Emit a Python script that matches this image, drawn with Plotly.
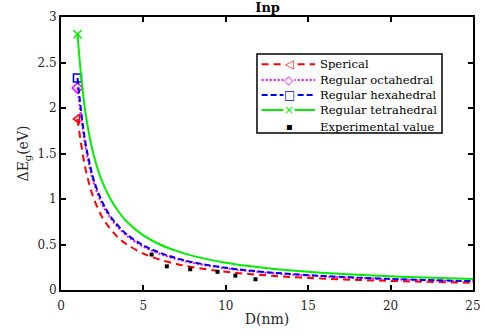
import plotly.graph_objects as go

D = [1, 1.25, 1.5, 1.75, 2, 2.5, 3, 3.5, 4, 5, 6, 7, 8, 10, 12, 14, 16, 18, 20, 22, 25]
spherical = [1.88, 1.57, 1.32, 1.14, 1.0, 0.8, 0.67, 0.57, 0.5, 0.4, 0.333, 0.286, 0.25, 0.2, 0.167, 0.143, 0.125, 0.111, 0.1, 0.091, 0.08]
octahedral = [2.22, 1.86, 1.56, 1.34, 1.17, 0.94, 0.79, 0.68, 0.595, 0.475, 0.397, 0.34, 0.297, 0.238, 0.198, 0.17, 0.149, 0.132, 0.119, 0.108, 0.095]
hexahedral = [2.33, 1.92, 1.6, 1.38, 1.2, 0.97, 0.81, 0.7, 0.61, 0.49, 0.41, 0.35, 0.305, 0.245, 0.204, 0.175, 0.153, 0.136, 0.122, 0.111, 0.097]
tetrahedral = [2.81, 2.3, 1.93, 1.67, 1.47, 1.19, 1.0, 0.86, 0.75, 0.6, 0.5, 0.43, 0.375, 0.3, 0.25, 0.214, 0.188, 0.167, 0.15, 0.136, 0.12]
exp_D = [5.5, 6.42, 7.84, 9.5, 10.58, 11.8]
exp_E = [0.39, 0.26, 0.228, 0.20, 0.158, 0.118]

names = ["Sperical", "Regular octahedral", "Regular hexahedral", "Regular tetrahedral", "Experimental value"]
series = [spherical, octahedral, hexahedral, tetrahedral]
colors = ["#ff0000", "#ff00ff", "#0000ee", "#00ee00"]
dashes = ["7px,5px", "2px,2px", "6px,3px", "solid"]
symbols = ["triangle-left-open", "diamond-open", "square-open", "x-thin-open"]
legend_glyphs = ["◁", "◇", "□", "×", "▪"]

FONT = "DejaVu Serif"
fig = go.Figure()
for nm, ys, c, d, s in zip(names, series, colors, dashes, symbols):
    fig.add_trace(go.Scatter(x=D, y=ys, mode="lines", name=nm,
                             line=dict(color=c, width=2, dash=d, shape="spline")))
    fig.add_trace(go.Scatter(x=D[:1], y=ys[:1], mode="markers", name=nm,
                             marker=dict(symbol=s, size=8, color=c, line=dict(color=c, width=1.6))))
fig.add_trace(go.Scatter(x=exp_D, y=exp_E, mode="markers", name=names[4],
                         marker=dict(symbol="square", size=4, color="black")))

# hand-built legend (paper coordinates of the plot area)
shapes = [dict(type="rect", xref="paper", yref="paper", x0=0.4757, x1=0.9248, y0=0.575, y1=0.8645,
               line=dict(color="black", width=1.5), fillcolor="white", layer="above")]
annotations = []
row_y = [0.8267, 0.7692, 0.7143, 0.6593, 0.5982]
leg_colors = colors + ["black"]
for i, nm in enumerate(names):
    y = row_y[i]
    if i < 4:
        shapes.append(dict(type="line", xref="paper", yref="paper", x0=0.487, x1=0.6165, y0=y, y1=y,
                           line=dict(color=leg_colors[i], width=2, dash=dashes[i]), layer="above"))
    annotations.append(dict(xref="paper", yref="paper", x=0.554, y=y, text=legend_glyphs[i],
                            showarrow=False, xanchor="center", yanchor="middle", bgcolor="white" if i < 4 else None,
                            borderpad=0,
                            font=dict(family="DejaVu Sans", size=12 if i < 4 else 10, color=leg_colors[i])))
    annotations.append(dict(xref="paper", yref="paper", x=0.624, y=y, text=nm, showarrow=False,
                            xanchor="left", yanchor="middle",
                            font=dict(family=FONT, size=11.6, color="black")))

axis_common = dict(showgrid=False, zeroline=False, showline=True, linecolor="black", linewidth=2,
                   mirror="ticks", ticks="inside", ticklen=5, tickwidth=1.5, tickcolor="black",
                   tickfont=dict(family=FONT, size=12, color="#262626"))
fig.update_layout(
    width=484, height=335,
    margin=dict(l=61, r=11, t=17, b=45, autoexpand=False),
    paper_bgcolor="white", plot_bgcolor="white",
    title=dict(text="<b>Inp</b>", x=0.553, xanchor="center", y=0.99, yanchor="top",
               font=dict(family=FONT, size=13, color="black")),
    font=dict(family=FONT, size=12, color="#262626"),
    xaxis=dict(range=[0, 25], tickvals=[0, 5, 10, 15, 20, 25], ticklabelstandoff=4,
               title=dict(text="D(nm)", font=dict(family=FONT, size=14), standoff=2), **axis_common),
    yaxis=dict(range=[0, 3], tickvals=[0, 0.5, 1, 1.5, 2, 2.5, 3],
               title=dict(text="ΔE<sub>g</sub>(eV)", font=dict(family=FONT, size=14), standoff=6), **axis_common),
    shapes=shapes, annotations=annotations,
    showlegend=False,
)
fig.write_html("out.html", post_script="document.body.style.margin='0';",
               config={"displayModeBar": False})
